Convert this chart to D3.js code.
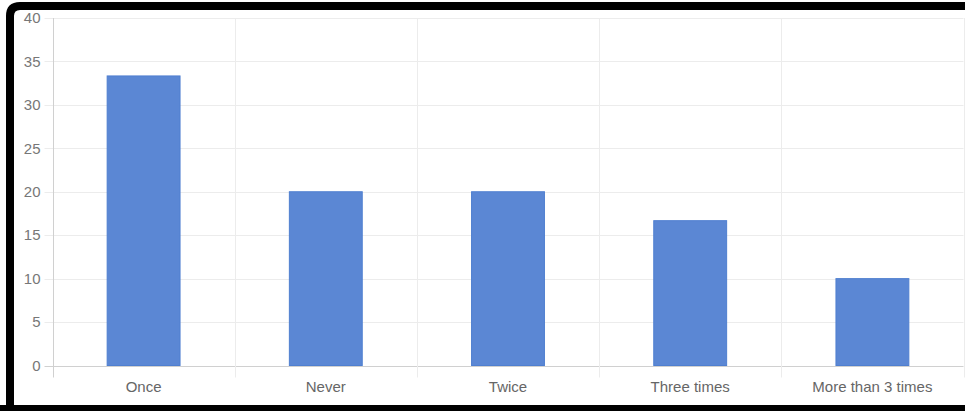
<!DOCTYPE html>
<html><head><meta charset="utf-8">
<script src="https://cdn.jsdelivr.net/npm/d3@7"></script>
<style>html,body{margin:0;padding:0;background:#fff;}svg{display:block;}</style>
</head><body>
<script>
const categories = ["Once","Never","Twice","Three times","More than 3 times"];
const values = [33.33, 20, 20, 16.67, 10];
const yTicks = [0,5,10,15,20,25,30,35,40];

(function(){
const W = 965, H = 411;
const svg = d3.select("body").append("svg").attr("width", W).attr("height", H);

// black frame
svg.append("path")
  .attr("d", "M10,406 L10,16 Q10,6 20,6 L965,6")
  .attr("fill","none").attr("stroke","#000").attr("stroke-width",8);
svg.append("rect").attr("x",0).attr("y",405).attr("width",W).attr("height",6).attr("fill","#000");
svg.append("rect").attr("x",6).attr("y",390).attr("width",8).attr("height",21).attr("fill","#000");

const mLeft = 52.5, mRight = 963.5, mTop = 18, mBottom = 365.5;
const x = d3.scaleBand().domain(categories).range([mLeft, mRight]).paddingInner(0).paddingOuter(0);
const y = d3.scaleLinear().domain([0,40]).range([mBottom, mTop]);

// horizontal grid
svg.append("g").selectAll("line").data(yTicks).join("line")
  .attr("x1", mLeft - 8).attr("x2", mRight)
  .attr("y1", d => Math.round(y(d)) + 0.5).attr("y2", d => Math.round(y(d)) + 0.5)
  .attr("stroke", d => d === 0 ? "#d0d0d0" : "#ececec").attr("stroke-width", 1);

// vertical grid
const vx = categories.map(c => x(c)).concat([mRight]);
svg.append("g").selectAll("line").data(vx).join("line")
  .attr("x1", d => Math.round(d) + 0.5).attr("x2", d => Math.round(d) + 0.5)
  .attr("y1", mTop).attr("y2", mBottom + 12)
  .attr("stroke", (d,i) => i === 0 ? "#d0d0d0" : "#ececec").attr("stroke-width", 1);

// y tick labels
svg.append("g").selectAll("text").data(yTicks).join("text")
  .attr("x", mLeft - 12).attr("y", d => y(d))
  .attr("dy", "0.35em").attr("text-anchor","end")
  .attr("font-family","Liberation Sans, Arial, sans-serif").attr("font-size",15)
  .attr("fill","#777").text(d => d);

// bars
const bw = x.bandwidth() * 0.4;
svg.append("g").selectAll("rect").data(values).join("rect")
  .attr("x", (d,i) => x(categories[i]) + (x.bandwidth() - bw)/2)
  .attr("y", d => y(d))
  .attr("width", bw)
  .attr("height", d => mBottom - y(d))
  .attr("fill", "#5b87d4")
  .attr("stroke", "#4f7fd0").attr("stroke-width", 1);

// x labels
svg.append("g").selectAll("text").data(categories).join("text")
  .attr("x", d => x(d) + x.bandwidth()/2).attr("y", 392)
  .attr("text-anchor","middle")
  .attr("font-family","Liberation Sans, Arial, sans-serif").attr("font-size",15)
  .attr("fill","#666").text(d => d);
})();
</script>
</body></html>
